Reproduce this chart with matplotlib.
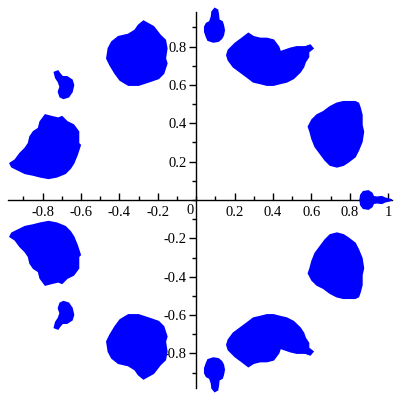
import matplotlib
matplotlib.use("Agg")
import matplotlib.pyplot as plt
from matplotlib.ticker import MultipleLocator, FixedLocator

# outlines of the point clouds in the upper half plane (lower half is the mirror)
blob1_x = [-0.274, -0.222, -0.188, -0.161, -0.153, -0.161, -0.153, -0.170, -0.196, -0.248, -0.300,
           -0.353, -0.396, -0.422, -0.448, -0.465, -0.457, -0.439, -0.405, -0.353, -0.318, -0.300]
blob1_y = [0.932, 0.903, 0.859, 0.833, 0.790, 0.738, 0.712, 0.660, 0.634, 0.616, 0.599,
           0.599, 0.625, 0.660, 0.703, 0.738, 0.790, 0.824, 0.851, 0.863, 0.885, 0.911]

blob2_x = [-0.738, -0.720, -0.708, -0.696, -0.673, -0.647, -0.639, -0.647, -0.665, -0.691,
           -0.708, -0.717, -0.708, -0.717, -0.731]
blob2_y = [0.665, 0.672, 0.655, 0.642, 0.642, 0.625, 0.599, 0.564, 0.538, 0.530,
           0.538, 0.564, 0.590, 0.616, 0.637]

blob3_x = [-0.786, -0.752, -0.717, -0.699, -0.673, -0.639, -0.613, -0.613, -0.604, -0.621,
           -0.639, -0.656, -0.682, -0.726, -0.769, -0.812, -0.847, -0.891, -0.926, -0.960,
           -0.969, -0.943, -0.917, -0.891, -0.873, -0.865, -0.847, -0.821, -0.812]
blob3_y = [0.443, 0.434, 0.426, 0.434, 0.408, 0.391, 0.356, 0.295, 0.286, 0.234,
           0.191, 0.165, 0.139, 0.121, 0.113, 0.121, 0.130, 0.139, 0.156, 0.173,
           0.191, 0.208, 0.243, 0.269, 0.295, 0.330, 0.356, 0.373, 0.408]

blob4_x = [0.097, 0.111, 0.115, 0.118, 0.135, 0.141, 0.146, 0.141, 0.132, 0.115,
           0.089, 0.062, 0.054, 0.045, 0.045, 0.054, 0.071, 0.080, 0.083]
blob4_y = [0.998, 0.990, 0.967, 0.938, 0.929, 0.911, 0.885, 0.859, 0.842, 0.828,
           0.824, 0.833, 0.851, 0.877, 0.903, 0.920, 0.929, 0.955, 0.981]

blob5_x = [0.272, 0.298, 0.333, 0.368, 0.403, 0.429, 0.438, 0.464, 0.490, 0.524, 0.568,
           0.594, 0.608, 0.585, 0.585, 0.568, 0.559, 0.542, 0.507, 0.472, 0.438, 0.403,
           0.368, 0.333, 0.298, 0.264, 0.229, 0.194, 0.168, 0.160, 0.168, 0.203, 0.238]
blob5_y = [0.868, 0.851, 0.842, 0.842, 0.833, 0.798, 0.772, 0.781, 0.790, 0.798, 0.798,
           0.807, 0.790, 0.772, 0.746, 0.720, 0.694, 0.668, 0.634, 0.616, 0.608, 0.599,
           0.599, 0.608, 0.616, 0.642, 0.668, 0.694, 0.729, 0.755, 0.781, 0.816, 0.842]

blob6_x = [0.767, 0.802, 0.828, 0.845, 0.854, 0.863, 0.863, 0.871, 0.863, 0.845, 0.828,
           0.793, 0.767, 0.733, 0.698, 0.672, 0.646, 0.620, 0.603, 0.594, 0.585, 0.603,
           0.629, 0.663, 0.698, 0.733]
blob6_y = [0.512, 0.512, 0.512, 0.504, 0.478, 0.443, 0.391, 0.356, 0.304, 0.260, 0.226,
           0.199, 0.182, 0.173, 0.182, 0.208, 0.243, 0.278, 0.321, 0.356, 0.382, 0.417,
           0.443, 0.460, 0.486, 0.504]

# the cloud on the real axis, upper half only
blob7_x = [0.854, 0.858, 0.871, 0.897, 0.915, 0.923, 0.941, 0.967, 0.984, 1.002, 1.019]
blob7_y = [0.0, 0.026, 0.043, 0.047, 0.035, 0.017, 0.014, 0.017, 0.009, 0.005, 0.0]

blobs = [(blob1_x, blob1_y), (blob2_x, blob2_y), (blob3_x, blob3_y), (blob4_x, blob4_y),
         (blob5_x, blob5_y), (blob6_x, blob6_y)]

xticks = [-0.8, -0.6, -0.4, -0.2, 0.2, 0.4, 0.6, 0.8, 1.0]
xtick_labels = ['-0.8', '-0.6', '-0.4', '-0.2', '0.2', '0.4', '0.6', '0.8', '1']
yticks = [-0.8, -0.6, -0.4, -0.2, 0.2, 0.4, 0.6, 0.8]
ytick_labels = ['-0.8', '-0.6', '-0.4', '-0.2', '0.2', '0.4', '0.6', '0.8']

blue = '#0000ff'

fig = plt.figure(figsize=(4, 4), dpi=100)
ax = fig.add_axes([0.02, 0.03, 0.96, 0.94])

for bx, by in blobs:
    ax.fill(bx, by, color=blue, lw=1.2, zorder=3, clip_on=False)
    ax.fill(bx, [-v for v in by], color=blue, lw=1.2, zorder=3, clip_on=False)
ax.fill(blob7_x + blob7_x[::-1], blob7_y + [-v for v in blob7_y[::-1]],
        color=blue, lw=1.2, zorder=3, clip_on=False)

ax.set_xlim(-0.98, 1.02)
ax.set_ylim(-0.98, 0.98)

ax.spines['left'].set_position('zero')
ax.spines['bottom'].set_position('zero')
ax.spines['right'].set_visible(False)
ax.spines['top'].set_visible(False)
for s in ['left', 'bottom']:
    ax.spines[s].set_linewidth(1.0)

ax.xaxis.set_major_locator(FixedLocator(xticks))
ax.set_xticklabels(xtick_labels)
ax.yaxis.set_major_locator(FixedLocator(yticks))
ax.set_yticklabels(ytick_labels)
ax.xaxis.set_minor_locator(MultipleLocator(0.1))
ax.yaxis.set_minor_locator(MultipleLocator(0.1))

ax.tick_params(axis='x', which='both', direction='in', labelsize=10.5, pad=4)
ax.tick_params(axis='y', which='both', direction='out', labelsize=10.5, pad=2)
ax.tick_params(which='major', length=5, width=1)
ax.tick_params(which='minor', length=3, width=1)
for lab in ax.get_xticklabels() + ax.get_yticklabels():
    lab.set_fontfamily('Liberation Serif')

ax.text(-0.015, -0.02, '0', ha='right', va='top', fontsize=10.5, family='Liberation Serif')

fig.savefig('out.png', dpi=100)
